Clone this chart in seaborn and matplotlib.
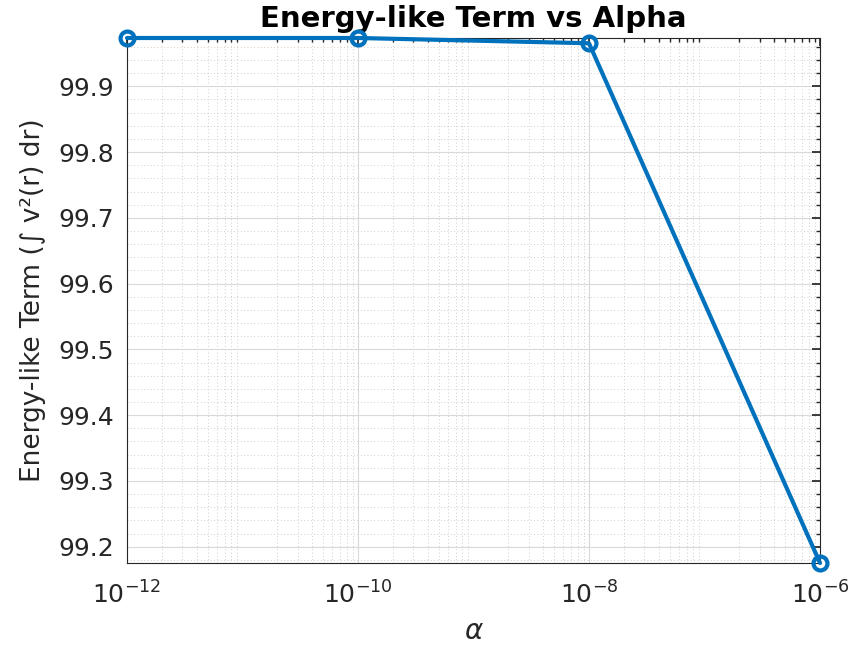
import numpy as np
import pandas as pd
import matplotlib
matplotlib.use("Agg")
import matplotlib.pyplot as plt
import seaborn as sns
from matplotlib.ticker import LogLocator, MultipleLocator

alpha = [1e-12, 1e-10, 1e-8, 1e-6]
energy = [99.9735, 99.9735, 99.9655, 99.1752]
xticks = [1e-12, 1e-10, 1e-8, 1e-6]
xticklabels = [r"$10^{-12}$", r"$10^{-10}$", r"$10^{-8}$", r"$10^{-6}$"]
yticks = [99.2, 99.3, 99.4, 99.5, 99.6, 99.7, 99.8, 99.9]

sns.set_theme(style="white")
plt.rcParams['font.family'] = ['DejaVu Sans']
plt.rcParams['mathtext.default'] = 'regular'

df = pd.DataFrame({"alpha": alpha, "energy": energy})

fig = plt.figure(figsize=(8.5, 6.55), dpi=100)
ax = fig.add_axes([0.1494, 0.1405, 0.8153, 0.8015])
sns.lineplot(data=df, x="alpha", y="energy", ax=ax, color="#0072BD", linewidth=3,
             marker="o", markersize=10, markerfacecolor="none",
             markeredgecolor="#0072BD", markeredgewidth=3, clip_on=False, zorder=5)
ax.set_xscale("log")
ax.set_xlim(1e-12, 1e-6)
ax.set_ylim(min(energy), max(energy))
ax.set_xticks(xticks)
ax.set_xticklabels(xticklabels)
ax.xaxis.set_minor_locator(LogLocator(base=10, subs=np.arange(2, 10), numticks=50))
ax.set_yticks(yticks)
ax.yaxis.set_minor_locator(MultipleLocator(0.02))

ax.grid(True, which="major", color="#d9d9d9", linewidth=0.8)
ax.grid(True, which="minor", color="#bfbfbf", linestyle=(0, (1, 3)), linewidth=0.6)
ax.set_axisbelow(True)

for s in ax.spines.values():
    s.set_color("#262626")
    s.set_linewidth(0.8)
ax.tick_params(which="both", direction="in", top=True, right=True, color="#262626")
ax.tick_params(which="major", length=6, labelsize=18, labelcolor="#262626")
ax.tick_params(axis="x", which="major", pad=13)
ax.tick_params(axis="y", which="major", pad=9.5)
ax.tick_params(which="minor", length=3)

ax.set_title("Energy-like Term vs Alpha", fontsize=21, fontweight="bold", pad=8,
             color="black")
ax.set_xlabel(r"$\mathit{\alpha}$", fontsize=20, color="#262626", labelpad=6)
ax.set_ylabel("Energy-like Term (\u222b v\u00b2(r) dr)", fontsize=19, color="#262626",
              labelpad=9)

fig.savefig("out.png", dpi=100)
